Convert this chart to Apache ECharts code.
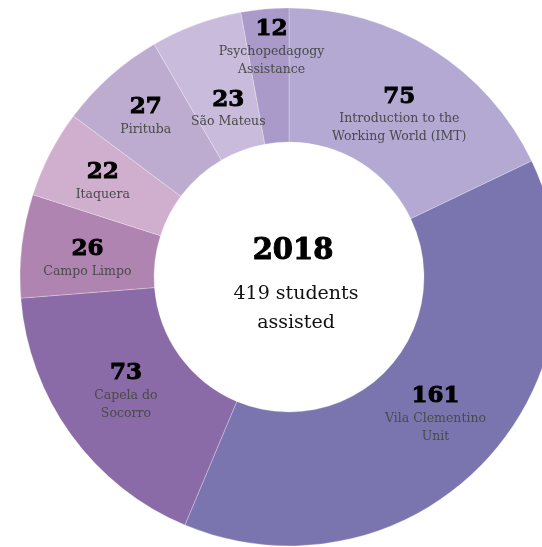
<!DOCTYPE html>
<html><head><meta charset="utf-8">
<style>html,body{margin:0;padding:0;background:#fff;}#c{width:542px;height:547px;}</style>
<script src="https://cdn.jsdelivr.net/npm/echarts@6/dist/echarts.min.js"></script>
</head><body><div id="c"></div>
<script>
const names = ['Introduction to the\nWorking World (IMT)','Vila Clementino\nUnit','Capela do\nSocorro','Campo Limpo','Itaquera','Pirituba','São Mateus','Psychopedagogy\nAssistance'];
const values = [75,161,73,26,22,27,23,12];
const colors = ['#b3a9d3','#7b75af','#8a6aa7','#b084b1','#d0aecd','#bdaccf','#c9bbdc','#a99ac9'];
const centerYear = '2018';
const centerText = '419 students\nassisted';
const labelOffsets = [[1,11],[-2,-4],[3,-6],[2,5],[-4,-2],[-7,-8],[10,24],[1,-26]];

const chart = echarts.init(document.getElementById('c'));
const data = values.map((v,i)=>({
  value:v, name:names[i],
  itemStyle:{color:colors[i]},
  label:{offset:labelOffsets[i]}
}));
chart.setOption({
  animation:false,
  series:[{
    type:'pie',
    center:[289,277],
    radius:[135,269],
    startAngle:90,
    clockwise:true,
    avoidLabelOverlap:false,
    itemStyle:{borderColor:'rgba(255,255,255,0.45)',borderWidth:0.6},
    label:{
      show:true, position:'inside',
      formatter:p=>'{n|'+p.value+'}\n{t|'+p.name.split('\n').join('}\n{t|')+'}',
      rich:{
        n:{fontFamily:'DejaVu Serif',fontWeight:'bold',fontSize:23,color:'#000',lineHeight:27,align:'center',textBorderColor:'#000',textBorderWidth:0.9},
        t:{fontFamily:'DejaVu Serif',fontSize:12.5,color:'#4a4a4a',lineHeight:18,align:'center'}
      }
    },
    labelLine:{show:false},
    emphasis:{disabled:true},
    data:data
  }],
  graphic:[
    {type:'text',x:293,y:251,style:{text:centerYear,font:'bold 29px "DejaVu Serif"',fill:'#000',stroke:'#000',lineWidth:1,align:'center',verticalAlign:'middle'}},
    {type:'text',x:296,y:309,style:{text:centerText,font:'19px "DejaVu Serif"',fill:'#111',align:'center',verticalAlign:'middle',lineHeight:29}}
  ]
});
</script></body></html>
